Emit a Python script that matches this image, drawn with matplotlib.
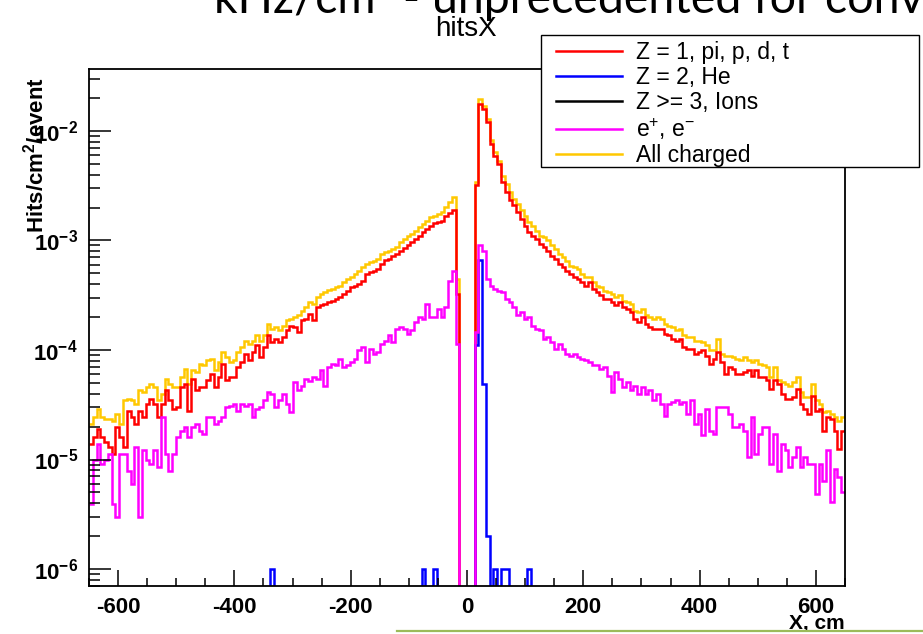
import numpy as np
import matplotlib
matplotlib.use('Agg')
import matplotlib.pyplot as plt
from matplotlib.lines import Line2D
from matplotlib.patches import Rectangle
from matplotlib.ticker import MultipleLocator, LogLocator, NullFormatter

plt.rcParams['font.family'] = ['Liberation Sans', 'DejaVu Sans']
plt.rcParams['mathtext.fontset'] = 'custom'
plt.rcParams['mathtext.rm'] = 'Liberation Sans'
plt.rcParams['mathtext.it'] = 'Liberation Sans:italic'
plt.rcParams['mathtext.bf'] = 'Liberation Sans:bold'

# histogram binning: 200 bins from -650 to 650 cm
x_lo, x_hi, n_bins = -650, 650, 200
edges = np.linspace(x_lo, x_hi, n_bins + 1)

# Z = 1, pi, p, d, t
z1 = [1.39e-5, 1.60e-5, 1.91e-5, 1.60e-5, 1.44e-5, 1.29e-5, 1.13e-5, 1.97e-5, 1.60e-5, 1.29e-5,
      2.8e-5, 2.43e-5, 2.12e-5, 2.8e-5, 2.43e-5, 3.23e-5, 3.58e-5, 3.23e-5, 2.43e-5, 3.23e-5,
      4.27e-5, 3.46e-5, 2.9e-5, 3.0e-5, 4.57e-5, 4.91e-5, 2.8e-5, 5.46e-5, 4.27e-5, 4.57e-5,
      4.57e-5, 5.27e-5, 6.06e-5, 4.57e-5, 5.64e-5, 7.48e-5, 5.27e-5, 5.64e-5, 5.64e-5, 6.97e-5,
      7.74e-5, 9.23e-5, 8.02e-5, 9.55e-5, 1.10e-4, 8.6e-5, 1.06e-4, 1.36e-4, 1.18e-4, 1.26e-4,
      1.18e-4, 1.31e-4, 1.51e-4, 1.67e-4, 1.61e-4, 1.46e-4, 1.86e-4, 1.93e-4, 2.14e-4, 1.86e-4,
      2.46e-4, 2.55e-4, 2.64e-4, 2.73e-4, 2.83e-4, 2.93e-4, 3.04e-4, 3.26e-4, 3.49e-4, 3.75e-4,
      3.88e-4, 4.02e-4, 4.31e-4, 4.96e-4, 5.14e-4, 5.32e-4, 5.51e-4, 6.12e-4, 6.67e-4, 6.81e-4,
      7.15e-4, 7.45e-4, 8.1e-4, 8.57e-4, 9.0e-4, 9.66e-4, 1.04e-3, 1.11e-3, 1.19e-3, 1.28e-3,
      1.37e-3, 1.45e-3, 1.47e-3, 1.52e-3, 1.69e-3, 1.77e-3, 1.88e-3, 3.26e-4,
      0, 0, 0, 0,
      3.18e-3, 1.77e-2, 1.59e-2, 1.20e-2, 7.63e-3, 5.97e-3, 5.01e-3, 3.41e-3,
      2.76e-3, 2.32e-3, 2.09e-3, 1.81e-3, 1.58e-3, 1.37e-3, 1.19e-3, 1.11e-3, 1.04e-3, 9.32e-4,
      8.69e-4, 8.1e-4, 7.29e-4, 6.8e-4, 6.12e-4, 5.71e-4, 5.32e-4, 4.96e-4, 4.63e-4, 4.47e-4,
      4.16e-4, 3.88e-4, 4.16e-4, 3.62e-4, 3.38e-4, 3.15e-4, 2.93e-4, 2.93e-4, 2.73e-4, 2.55e-4,
      2.73e-4, 2.46e-4, 2.38e-4, 2.22e-4, 1.93e-4, 1.80e-4, 2.0e-4, 1.73e-4, 1.62e-4, 1.56e-4,
      1.56e-4, 1.56e-4, 1.41e-4, 1.36e-4, 1.26e-4, 1.22e-4, 1.26e-4, 1.06e-4, 1.03e-4, 1.03e-4,
      9.23e-5, 9.55e-5, 9.9e-5, 8.9e-5, 7.48e-5, 8.3e-5, 9.55e-5, 7.74e-5, 6.06e-5, 6.97e-5,
      6.73e-5, 6.06e-5, 6.06e-5, 6.28e-5, 6.5e-5, 5.85e-5, 6.5e-5, 5.65e-5, 5.65e-5, 5.27e-5,
      4.42e-5, 5.27e-5, 4.91e-5, 3.98e-5, 3.58e-5, 3.58e-5, 3.71e-5, 4.42e-5, 3.22e-5, 2.9e-5,
      2.61e-5, 3.84e-5, 2.8e-5, 2.9e-5, 1.84e-5, 2.44e-5, 2.35e-5, 1.84e-5, 1.25e-5, 1.84e-5]

# All charged
allch = [2.12e-5, 2.44e-5, 2.90e-5, 2.44e-5, 2.35e-5, 2.35e-5, 2.27e-5, 2.61e-5, 2.12e-5, 3.46e-5,
         3.58e-5, 3.46e-5, 3.22e-5, 4.27e-5, 4.12e-5, 4.58e-5, 4.91e-5, 4.58e-5, 3.46e-5, 3.98e-5,
         5.45e-5, 4.91e-5, 4.58e-5, 4.58e-5, 5.65e-5, 6.73e-5, 4.91e-5, 6.5e-5, 6.28e-5, 7.47e-5,
         7.22e-5, 8.02e-5, 8.3e-5, 6.5e-5, 7.75e-5, 9.55e-5, 8.6e-5, 7.75e-5, 8.02e-5, 9.55e-5,
         1.06e-4, 1.22e-4, 1.14e-4, 1.22e-4, 1.36e-4, 1.22e-4, 1.36e-4, 1.73e-4, 1.56e-4, 1.62e-4,
         1.51e-4, 1.67e-4, 1.86e-4, 1.93e-4, 2.0e-4, 2.07e-4, 2.29e-4, 2.46e-4, 2.73e-4, 2.64e-4,
         3.04e-4, 3.26e-4, 3.38e-4, 3.5e-4, 3.62e-4, 3.75e-4, 3.88e-4, 4.17e-4, 4.47e-4, 4.63e-4,
         4.96e-4, 5.32e-4, 5.71e-4, 6.12e-4, 6.34e-4, 6.56e-4, 6.8e-4, 7.55e-4, 7.82e-4, 8.1e-4,
         8.39e-4, 8.69e-4, 9.66e-4, 1.035e-3, 1.11e-3, 1.15e-3, 1.23e-3, 1.32e-3, 1.42e-3, 1.52e-3,
         1.63e-3, 1.69e-3, 1.75e-3, 1.82e-3, 2.01e-3, 2.24e-3, 2.49e-3, 4.47e-4,
         0, 0, 0, 0,
         3.41e-3, 1.94e-2, 1.69e-2, 1.29e-2, 8.19e-3, 6.4e-3, 5.37e-3, 3.92e-3,
         3.29e-3, 2.76e-3, 2.4e-3, 2.16e-3, 1.88e-3, 1.69e-3, 1.47e-3, 1.37e-3, 1.23e-3, 1.11e-3,
         1.07e-3, 1.0e-3, 9.0e-4, 8.39e-4, 7.55e-4, 7.05e-4, 6.56e-4, 5.91e-4, 5.71e-4, 5.51e-4,
         4.96e-4, 4.63e-4, 4.63e-4, 4.16e-4, 3.88e-4, 3.75e-4, 3.49e-4, 3.38e-4, 3.26e-4, 3.04e-4,
         3.15e-4, 2.83e-4, 2.73e-4, 2.64e-4, 2.29e-4, 2.22e-4, 2.38e-4, 2.07e-4, 2.0e-4, 1.93e-4,
         2.0e-4, 1.93e-4, 1.73e-4, 1.67e-4, 1.62e-4, 1.51e-4, 1.56e-4, 1.36e-4, 1.31e-4, 1.31e-4,
         1.22e-4, 1.22e-4, 1.18e-4, 1.10e-4, 9.9e-5, 9.9e-5, 1.26e-4, 9.23e-5, 8.9e-5, 8.9e-5,
         8.6e-5, 8.3e-5, 8.02e-5, 8.6e-5, 8.02e-5, 7.74e-5, 8.02e-5, 7.48e-5, 7.22e-5, 6.97e-5,
         5.65e-5, 6.97e-5, 5.27e-5, 5.08e-5, 4.91e-5, 4.74e-5, 5.08e-5, 5.65e-5, 4.12e-5, 3.71e-5,
         3.71e-5, 4.91e-5, 3.46e-5, 3.22e-5, 2.71e-5, 2.8e-5, 2.61e-5, 2.44e-5, 2.27e-5, 2.44e-5]

# e+, e-
elec = [3.94e-6, 9.8e-6, 1.39e-5, 9.1e-6, 9.8e-6, 1.13e-5, 3.94e-6, 2.97e-6, 1.13e-5, 1.13e-5,
        7.9e-6, 6.0e-6, 1.30e-5, 2.97e-6, 1.21e-5, 9.8e-6, 9.1e-6, 1.21e-5, 8.5e-6, 2.44e-5,
        1.13e-5, 7.9e-6, 1.13e-5, 1.6e-5, 1.84e-5, 1.97e-5, 1.6e-5, 1.97e-5, 2.12e-5, 1.84e-5,
        1.71e-5, 2.44e-5, 2.44e-5, 2.12e-5, 2.27e-5, 2.44e-5, 3.0e-5, 3.11e-5, 3.22e-5, 2.8e-5,
        3.22e-5, 3.11e-5, 3.22e-5, 2.44e-5, 2.9e-5, 3.0e-5, 3.46e-5, 4.12e-5, 3.98e-5, 3.0e-5,
        3.46e-5, 3.98e-5, 3.22e-5, 2.71e-5, 5.08e-5, 4.27e-5, 4.74e-5, 5.45e-5, 5.26e-5, 5.65e-5,
        5.45e-5, 6.5e-5, 4.74e-5, 6.97e-5, 7.47e-5, 7.22e-5, 8.3e-5, 6.97e-5, 7.22e-5, 7.75e-5,
        8.3e-5, 9.9e-5, 1.06e-4, 7.75e-5, 1.03e-4, 9.23e-5, 9.55e-5, 1.14e-4, 1.22e-4, 1.36e-4,
        1.18e-4, 1.56e-4, 1.62e-4, 1.56e-4, 1.41e-4, 1.51e-4, 1.80e-4, 2.0e-4, 1.93e-4, 2.64e-4,
        2.0e-4, 2.0e-4, 2.38e-4, 2.0e-4, 2.46e-4, 4.31e-4, 5.32e-4, 1.14e-4,
        0, 0, 0, 0,
        1.46e-4, 9.0e-4, 8.1e-4, 4.47e-4, 3.88e-4, 3.62e-4, 3.49e-4, 3.38e-4,
        2.93e-4, 2.73e-4, 2.46e-4, 2.07e-4, 2.22e-4, 1.93e-4, 2.0e-4, 1.67e-4, 1.56e-4, 1.51e-4,
        1.26e-4, 1.31e-4, 1.18e-4, 1.03e-4, 1.14e-4, 1.03e-4, 9.23e-5, 8.9e-5, 9.23e-5, 8.6e-5,
        8.3e-5, 8.02e-5, 7.74e-5, 7.22e-5, 7.22e-5, 6.73e-5, 6.97e-5, 5.85e-5, 4.12e-5, 6.28e-5,
        5.45e-5, 4.57e-5, 5.08e-5, 4.27e-5, 4.74e-5, 3.98e-5, 4.57e-5, 3.98e-5, 4.27e-5, 3.46e-5,
        3.98e-5, 3.22e-5, 2.52e-5, 3.22e-5, 3.34e-5, 3.46e-5, 3.22e-5, 3.34e-5, 2.61e-5, 3.46e-5,
        2.12e-5, 2.61e-5, 1.66e-5, 2.9e-5, 1.84e-5, 1.71e-5, 3.0e-5, 3.0e-5, 3.0e-5, 2.61e-5,
        1.97e-5, 1.97e-5, 2.12e-5, 1.84e-5, 1.05e-5, 2.44e-5, 1.13e-5, 1.71e-5, 1.97e-5, 1.97e-5,
        9.1e-6, 1.71e-5, 7.9e-6, 1.39e-5, 1.21e-5, 8.5e-6, 1.05e-5, 1.30e-5, 8.5e-6, 1.05e-5,
        9.1e-6, 9.1e-6, 4.85e-6, 9.1e-6, 6.43e-6, 1.21e-5, 4.07e-6, 8.2e-6, 6.9e-6, 5.0e-6]

# Z = 2, He (only non-empty bins)
he_bins = [48, 88, 91, 102, 103, 104, 105, 107, 109, 110, 116]
he_vals = [1e-6, 1e-6, 1e-6, 1.1e-4, 6.6e-4, 4.9e-5, 2e-6, 1e-6, 1e-6, 1e-6, 1e-6]

he = np.zeros(n_bins)
he[he_bins] = he_vals
ions = np.zeros(n_bins)  # Z >= 3: empty

series = [
    (allch, '#FFC800', 'All charged'),
    (z1, '#FF0000', 'Z = 1, pi, p, d, t'),
    (he, '#0000FF', 'Z = 2, He'),
    (ions, '#000000', 'Z >= 3, Ions'),
    (elec, '#FF00FF', 'e$^{+}$, e$^{-}$'),
]

W, H = 923, 634
fig = plt.figure(figsize=(W / 100, H / 100), dpi=100)
ax = fig.add_axes([89 / W, 1 - 586 / H, (845 - 89) / W, (586 - 69) / H])

for vals, col, _ in series:
    v = np.asarray(vals, dtype=float)
    v = np.where(v > 0, v, 1e-12)  # empty bins drop below the frame, like ROOT
    ax.stairs(v, edges, baseline=None, color=col, lw=1.8)

ax.set_yscale('log')
ax.set_xlim(x_lo, x_hi)
ax.set_ylim(7.0e-7, 3.68e-2)

ax.xaxis.set_major_locator(MultipleLocator(200))
ax.xaxis.set_minor_locator(MultipleLocator(50))
ax.set_xticks([-600, -400, -200, 0, 200, 400, 600])
ax.set_xticklabels(['-600', '-400', '-200', '0', '200', '400', '600'],
                   fontsize=16, fontweight='bold')
yt = [1e-6, 1e-5, 1e-4, 1e-3, 1e-2]
ax.set_yticks(yt)
ax.set_yticklabels([r'$\mathbf{10^{%d}}$' % int(round(np.log10(t))) for t in yt], fontsize=16)
ax.yaxis.set_minor_locator(LogLocator(base=10, subs=np.arange(2, 10), numticks=20))
ax.yaxis.set_minor_formatter(NullFormatter())

ax.tick_params(axis='x', which='major', direction='in', length=11.5, width=1.1, pad=8)
ax.tick_params(axis='x', which='minor', direction='in', length=5.8, width=1.1)
ax.tick_params(axis='y', which='major', direction='in', length=16, width=1.1, pad=8)
ax.tick_params(axis='y', which='minor', direction='in', length=8, width=1.1)
for s in ax.spines.values():
    s.set_linewidth(1.3)

ax.set_xlabel('X, cm', fontsize=15, fontweight='bold', loc='right')
ax.xaxis.set_label_coords(1.0, -0.055)
ax.set_ylabel(r'$\mathbf{Hits/cm^{2}/event}$', fontsize=16,
              rotation_mode='default', ha='center', va='center')
ax.yaxis.set_label_coords(-0.071, 0.833)

fig.text(466 / W, 1 - 29 / H, 'hitsX', ha='center', va='center', fontsize=20)

# legend box (ROOT style, white filled, square corners)
fig.add_artist(Rectangle((541 / W, 1 - 167 / H), (919 - 541) / W, (167 - 35) / H,
                         transform=fig.transFigure, facecolor='white',
                         edgecolor='black', lw=1.0, zorder=4))
handles = [Line2D([], [], color=c, lw=1.8) for _, c, _ in series]
order = [1, 2, 3, 4, 0]
fig.legend([handles[i] for i in order], [series[i][2] for i in order],
           loc='upper left', bbox_to_anchor=(556 / W, 1 - 41 / H),
           frameon=False, fontsize=16.5, handlelength=2.9, handletextpad=0.6,
           labelspacing=0.09, borderpad=0, borderaxespad=0).set_zorder(5)

# slide decorations around the screenshot
fig.text(214 / W, 1 - 13 / H, 'kHz/cm\u00b2 - unprecedented for conv', fontsize=33.5,
         family=['Lato', 'DejaVu Sans'], ha='left', va='baseline')
fig.add_artist(Line2D([397 / W, 1.0], [1 - 631 / H, 1 - 631 / H],
                      transform=fig.transFigure, color='#9BBB59', lw=1.6))

fig.savefig('out.png', dpi=100)
